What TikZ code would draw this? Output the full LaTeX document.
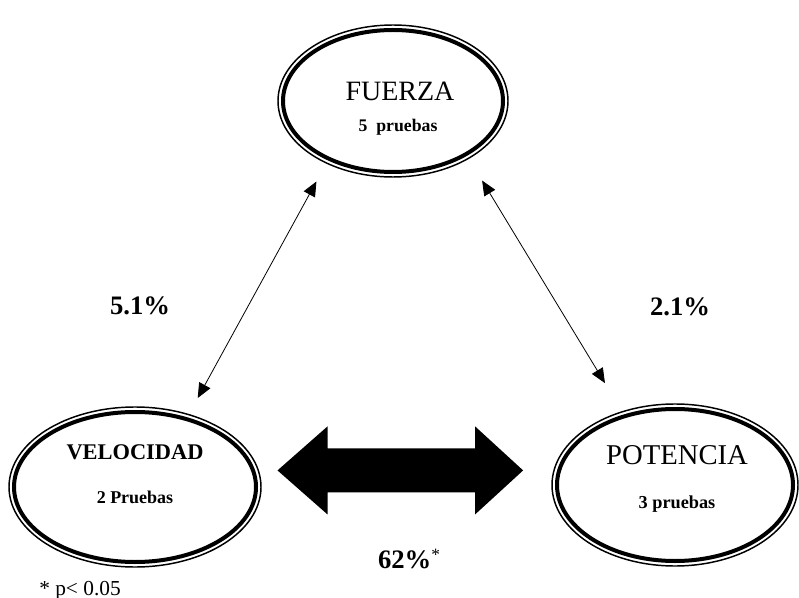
\documentclass[tikz,border=0pt]{standalone}
\usepackage{fontspec}
\setmainfont{Liberation Serif}
\usetikzlibrary{calc,shapes.geometric,arrows.meta}

\begin{document}
\begin{tikzpicture}[x=0.75pt,y=-0.75pt,
        aro/.style={ellipse, draw, line width=3pt, inner sep=0pt, outer sep=0pt},
        rotulo/.style={anchor=base, inner sep=0pt},
        fina/.style={line width=0.6pt, {Triangle[length=11pt,width=9.5pt]}-{Triangle[length=11pt,width=9.5pt]}}]
        \useasboundingbox (0,0) rectangle (799,598);

        % Draw the three ellipses
        \node[aro, minimum width=165pt, minimum height=106.5pt] (fuerza) at (393,101) {};
        \node[aro, minimum width=181.5pt, minimum height=112.5pt] (velocidad) at (135,487) {};
        \node[aro, minimum width=177pt, minimum height=114pt] (potencia) at (675,485) {};

        % Thin outer ring
        \foreach \e in {fuerza,velocidad,potencia}
            \draw[line width=1.1pt] let \p1=($(\e.east)-(\e.center)$), \p2=($(\e.north)-(\e.center)$)
                in (\e.center) ellipse [x radius=\x1+3.75pt, y radius=\y2+3.75pt];

        % Label the ellipses
        \node[rotulo, font=\fontsize{21}{25}\selectfont] (fuerzaT) at (400,101) {FUERZA};
        \node[rotulo, font=\bfseries\fontsize{13.3}{16}\selectfont] (fuerzaP) at (398,132) {5~~pruebas};
        \node[rotulo, font=\bfseries\fontsize{16.8}{20}\selectfont] (velocidadT) at (135,459) {VELOCIDAD};
        \node[rotulo, font=\bfseries\fontsize{13.5}{16}\selectfont] (velocidadP) at (135,503) {2 Pruebas};
        \node[rotulo, font=\fontsize{21.5}{26}\selectfont] (potenciaT) at (677,464) {POTENCIA};
        \node[rotulo, font=\bfseries\fontsize{13.7}{16}\selectfont] (potenciaP) at (677,508) {3 pruebas};

        % Thin arrows
        \draw[fina, shorten <=19.5pt, shorten >=18pt] (fuerza.222.5) -- (velocidad.53.5);
        \draw[fina, shorten <=23.25pt, shorten >=29pt] (fuerza.324.6) -- (potencia.126.1);

        % Big double arrow
        \coordinate (izq) at ($(velocidad.8.7)+(24.5,0)$);
        \coordinate (d0) at ($(potencia.172.1)+(-36.6,0)$);
        \coordinate (der) at (d0 |- izq);
        \fill (izq) -- ++(50,-44) -- ++(0,22) -- ($(der)+(-48,-22)$) -- ++(0,-22) -- (der)
            -- ++(-48,44) -- ++(0,-22) -- ($(izq)+(50,22)$) -- ++(0,22) -- cycle;

        % Percentages
        \node[rotulo, font=\bfseries\fontsize{20}{24}\selectfont] (pv) at (140,315) {5.1\%};
        \node[rotulo, font=\bfseries\fontsize{20}{24}\selectfont] (pp) at (680,316) {2.1\%};
        \node[rotulo, font=\bfseries\fontsize{20}{24}\selectfont] (pvp) at (409,568)
            {62\%{\mdseries\fontsize{13}{13}\selectfont\raisebox{0.45em}{*}}};
        \node[rotulo, font=\fontsize{16}{19}\selectfont] (nota) at (80,595) {* p< 0.05};
\end{tikzpicture}
\end{document}
